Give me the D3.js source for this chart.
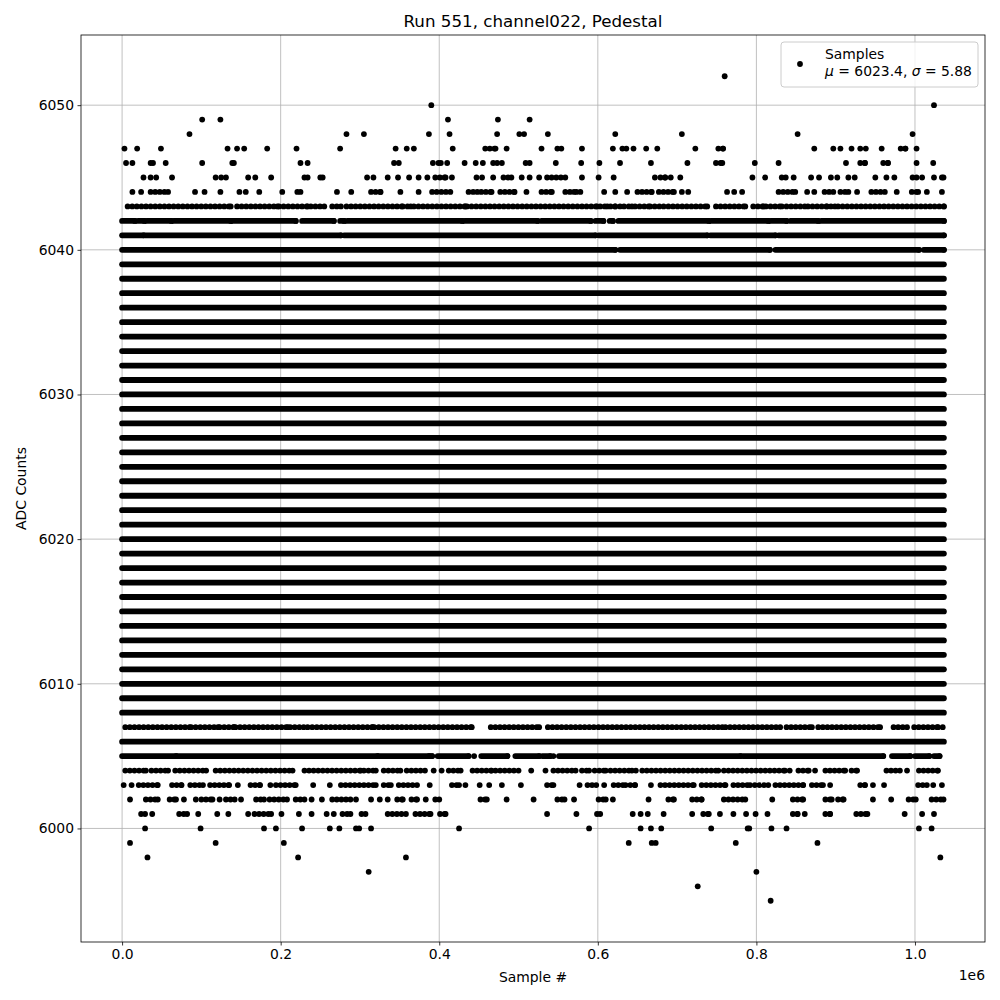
<!DOCTYPE html>
<html>
<head>
<meta charset="utf-8">
<script src="https://cdn.jsdelivr.net/npm/d3@7"></script>
<style>
  body { margin: 0; background: #fff; }
  svg text { font-family: "DejaVu Sans", sans-serif; fill: #000; }
</style>
</head>
<body>
<div id="chart"></div>
<script>
// sample index is in units of 1e6 (the axis offset)
const sampleSpan = [0, 1.0365];
const yTicks = [6000, 6010, 6020, 6030, 6040, 6050];
const xTicks = [0, 0.2, 0.4, 0.6, 0.8, 1.0];

// ADC codes hit all through the run
const denseLevels = [6006, 6008, 6009, 6010, 6011, 6012, 6013, 6014, 6015, 6016, 6017, 6018,
  6019, 6020, 6021, 6022, 6023, 6024, 6025, 6026, 6027, 6028, 6029, 6030, 6031, 6032, 6033,
  6034, 6035, 6036, 6037, 6038, 6039];

// sparser codes: single samples as numbers, stretches of samples as [from, to]
const r6052 = [0.760];
const r6050 = [0.390, 1.024];
const r6049 = [0.101, 0.124, 0.411, 0.474, 0.514];
const r6048 = [0.085, 0.283, 0.305, 0.387, 0.413, 0.473, 0.501, 0.507, 0.537, 0.622, 0.706, 0.852, 0.997];
const r6047 = [0.003, 0.019, 0.049, 0.133, 0.145, 0.154, 0.183, 0.220, 0.275, 0.345, 0.359, 0.368,
  0.417, [0.458, 0.471], 0.485, 0.529, 0.549, 0.554, 0.580, 0.619, 0.631, 0.636, 0.645, 0.661, 0.675,
  0.723, [0.752, 0.758], 0.873, 0.897, 0.906, 0.920, 0.931, 0.938, 0.958, [0.982, 0.988], 1.002];
const r6046 = [0.005, 0.013, 0.036, 0.039, 0.055, 0.101, 0.139, 0.141, 0.225, 0.234, 0.343, 0.349,
  0.392, 0.399, 0.402, 0.410, 0.432, 0.446, 0.455, 0.468, 0.473, 0.479, 0.509, 0.514, 0.547, 0.579,
  0.602, 0.628, 0.667, 0.713, [0.749, 0.757], 0.798, 0.828, 0.913, [0.931, 0.937], [0.960, 0.966],
  1.002, 1.023];
const r6045 = [0.027, 0.036, 0.043, 0.063, 0.118, 0.125, 0.131, 0.159, 0.168, 0.188, 0.230, 0.234,
  0.250, 0.253, 0.309, 0.317, 0.335, 0.348, 0.362, 0.374, 0.385, [0.395, 0.408], 0.416, 0.447, 0.454,
  0.468, [0.481, 0.491], 0.504, 0.514, 0.526, [0.536, 0.559], 0.580, 0.601, 0.620, 0.672,
  [0.679, 0.685], 0.692, 0.704, 0.795, 0.811, [0.832, 0.837], 0.847, 0.869, 0.879, 0.894, 0.902,
  0.916, 0.924, 0.950, 0.964, 0.974, [0.997, 1.002], 1.009, 1.024, [1.034, 1.036]];
const r6044 = [0.013, 0.024, [0.036, 0.058], 0.092, 0.104, 0.124, 0.148, 0.156, 0.173, 0.202,
  [0.221, 0.225], 0.271, 0.289, [0.314, 0.326], 0.351, 0.374, [0.391, 0.414], [0.437, 0.448],
  [0.453, 0.466], [0.477, 0.495], 0.510, [0.529, 0.542], [0.559, 0.570], [0.573, 0.578], 0.608,
  0.622, 0.637, [0.650, 0.668], [0.677, 0.696], 0.706, 0.714, 0.763, 0.772, 0.782, [0.828, 0.849],
  0.864, 0.873, [0.886, 0.897], [0.906, 0.916], 0.927, [0.945, 0.962], 0.977, [0.996, 1.004],
  1.015, 1.034];
const r6043 = [[0.007, 0.137], [0.145, 0.196], [0.198, 0.234], [0.238, 0.255], [0.265, 0.276],
  [0.283, 0.354], [0.360, 0.364], [0.368, 0.433], [0.435, 0.599], [0.603, 0.612], [0.616, 0.622],
  [0.628, 0.633], [0.639, 0.643], [0.647, 0.664], [0.666, 0.683], [0.689, 0.738], [0.749, 0.786],
  [0.796, 0.809], [0.812, 0.832], [0.838, 0.861], [0.865, 0.889], [0.894, 0.899], [0.903, 1.0365]];
const r6042 = [[0, 0.016], [0.020, 0.028], [0.031, 0.062], [0.065, 0.137], [0.139, 0.219],
  [0.227, 0.267], [0.275, 0.280], [0.284, 0.429], [0.432, 0.524], [0.529, 0.591], [0.597, 0.607],
  [0.615, 0.619], [0.626, 0.740], [0.743, 0.815], [0.818, 0.838], [0.843, 0.878], [0.882, 1.0365]];
const r6041 = [[0, 0.027], [0.029, 0.276], [0.280, 0.597], [0.601, 0.738], [0.742, 0.824],
  [0.828, 1.0365]];
const r6040 = [[0, 0.622], [0.628, 0.817], [0.824, 1.005], [1.011, 1.0365]];
const r6007 = [[0.004, 0.085], [0.087, 0.121], [0.123, 0.141], [0.143, 0.209], [0.212, 0.229],
  [0.234, 0.316], [0.318, 0.441], [0.465, 0.526], [0.537, 0.757], [0.761, 0.830], [0.838, 0.870],
  [0.878, 0.956], [0.973, 0.990], [0.999, 1.029], 1.035];
const r6005 = [[0, 0.068], [0.070, 0.322], [0.324, 0.387], [0.389, 0.391], [0.398, 0.437], 0.444,
  [0.453, 0.486], [0.496, 0.526], [0.530, 0.540], 0.544, [0.551, 0.780], [0.783, 0.960],
  [0.971, 0.994], [1.000, 1.018], [1.024, 1.031]];
const r6004 = [[0.004, 0.030], [0.037, 0.058], [0.067, 0.106], [0.118, 0.215], [0.230, 0.301],
  [0.305, 0.320], [0.330, 0.351], [0.359, 0.382], 0.393, 0.403, [0.412, 0.427], [0.442, 0.466],
  [0.471, 0.500], 0.516, 0.534, [0.544, 0.572], [0.580, 0.589], [0.596, 0.610], [0.616, 0.643],
  0.648, [0.656, 0.752], [0.759, 0.836], 0.842, [0.853, 0.866], 0.874, [0.887, 0.912],
  [0.920, 0.927], [0.964, 0.981], 0.990, [1.005, 1.029]];
const r6003 = [0.002, 0.012, [0.021, 0.045], [0.063, 0.075], [0.086, 0.102], [0.111, 0.135], 0.146,
  [0.162, 0.174], 0.187, [0.194, 0.219], 0.241, 0.262, [0.276, 0.320], [0.330, 0.339],
  [0.349, 0.372], 0.388, [0.416, 0.425], 0.433, 0.451, 0.463, 0.479, 0.503, [0.536, 0.544], 0.577,
  [0.587, 0.598], 0.608, [0.620, 0.635], [0.641, 0.647], 0.667, [0.679, 0.721], [0.731, 0.761],
  [0.771, 0.792], [0.798, 0.815], [0.824, 0.859], [0.870, 0.884], 0.893, [0.931, 0.937], 0.947,
  0.961, [1.004, 1.015], 1.023, 1.034];
const r6002 = [0.010, [0.030, 0.045], [0.060, 0.068], 0.078, 0.093, [0.100, 0.114], 0.123,
  [0.131, 0.142], 0.150, [0.169, 0.179], [0.186, 0.208], [0.219, 0.230], 0.239, 0.252,
  [0.265, 0.288], 0.295, 0.314, 0.325, 0.335, [0.347, 0.354], [0.365, 0.372], 0.383, [0.395, 0.400],
  [0.452, 0.460], 0.485, 0.519, [0.549, 0.558], 0.570, [0.601, 0.610], 0.619, 0.664, [0.689, 0.696],
  [0.719, 0.731], [0.759, 0.786], 0.820, [0.846, 0.859], [0.887, 0.895], [0.903, 0.910], 0.947,
  0.970, [0.992, 1.001], [1.021, 1.036]];
const r6001 = [[0.024, 0.029], 0.038, [0.072, 0.082], 0.096, 0.120, 0.134, 0.159, [0.167, 0.188],
  0.201, 0.223, 0.239, 0.258, 0.267, [0.278, 0.288], [0.302, 0.307], [0.335, 0.358], [0.370, 0.389],
  [0.401, 0.408], 0.536, 0.573, [0.599, 0.603], 0.644, 0.654, 0.663, 0.683, 0.719, [0.733, 0.740],
  0.754, 0.771, 0.787, 0.799, 0.814, [0.846, 0.852], 0.861, [0.887, 0.893], [0.926, 0.940], 0.987,
  1.009, 1.024];
const r6000 = [0.029, 0.099, 0.179, 0.194, 0.227, 0.262, 0.274, [0.295, 0.299], 0.314, 0.425, 0.589,
  0.654, 0.667, 0.680, 0.743, [0.789, 0.791], 0.819, 0.838, 1.005, 1.021];
const r5999 = [0.010, 0.118, 0.204, 0.639, [0.668, 0.673], 0.774, 0.877];
const r5998 = [0.032, 0.222, 0.358, 1.032];
const r5997 = [0.311, 0.800];
const r5996 = [0.726];
const r5995 = [0.818];

const sparseLevels = [6052, 6050, 6049, 6048, 6047, 6046, 6045, 6044, 6043, 6042, 6041, 6040,
  6007, 6005, 6004, 6003, 6002, 6001, 6000, 5999, 5998, 5997, 5996, 5995];
const sparseRuns = [r6052, r6050, r6049, r6048, r6047, r6046, r6045, r6044, r6043, r6042, r6041, r6040,
  r6007, r6005, r6004, r6003, r6002, r6001, r6000, r5999, r5998, r5997, r5996, r5995];

const mu = 6023.4, sigma = 5.88;

const width = 1000, height = 1000;
const margin = { top: 35, right: 15, bottom: 58, left: 81 };

const svg = d3.select("#chart").append("svg")
  .attr("width", width).attr("height", height);

// matplotlib style 5% padding around the data
const yMin = d3.min(sparseLevels), yMax = d3.max(sparseLevels);
const xPad = (sampleSpan[1] - sampleSpan[0]) * 0.05;
const yPad = (yMax - yMin) * 0.05;

const x = d3.scaleLinear()
  .domain([sampleSpan[0] - xPad, sampleSpan[1] + xPad])
  .range([margin.left, width - margin.right]);
const y = d3.scaleLinear()
  .domain([yMin - yPad, yMax + yPad])
  .range([height - margin.bottom, margin.top]);

const x0 = margin.left, x1 = width - margin.right;
const y0 = margin.top, y1 = height - margin.bottom;

// grid
svg.append("g").selectAll("line").data(xTicks).join("line")
  .attr("x1", d => x(d)).attr("x2", d => x(d))
  .attr("y1", y0).attr("y2", y1)
  .attr("stroke", "#b0b0b0").attr("stroke-width", 0.8);
svg.append("g").selectAll("line").data(yTicks).join("line")
  .attr("x1", x0).attr("x2", x1)
  .attr("y1", d => y(d)).attr("y2", d => y(d))
  .attr("stroke", "#b0b0b0").attr("stroke-width", 0.8);

// samples
const dotR = 2.9;
// rows that are almost full look solid, thinner ones look like chains of dots
const solidLevels = [6040, 6041, 6042, 6005];
const pts = svg.append("g");

pts.selectAll("line.dense").data(denseLevels).join("line")
  .attr("class", "dense")
  .attr("x1", x(sampleSpan[0])).attr("x2", x(sampleSpan[1]))
  .attr("y1", d => y(d)).attr("y2", d => y(d))
  .attr("stroke", "#000").attr("stroke-width", dotR * 2).attr("stroke-linecap", "round");

const runs = [];
sparseLevels.forEach((lvl, i) => {
  sparseRuns[i].forEach(r => {
    const s = typeof r === "number" ? [r, r] : r;
    runs.push({ level: lvl, from: s[0], to: s[1] });
  });
});

pts.selectAll("line.run").data(runs.filter(d => d.to > d.from)).join("line")
  .attr("class", "run")
  .attr("x1", d => x(d.from)).attr("x2", d => x(d.to))
  .attr("y1", d => y(d.level)).attr("y2", d => y(d.level))
  .attr("stroke", "#000").attr("stroke-width", dotR * 2).attr("stroke-linecap", "round")
  .attr("stroke-dasharray", d => solidLevels.includes(d.level) ? null : "0 4.6");

// make sure each stretch ends on a dot
pts.selectAll("circle.end").data(runs.filter(d => d.to > d.from)).join("circle")
  .attr("class", "end")
  .attr("cx", d => x(d.to)).attr("cy", d => y(d.level))
  .attr("r", dotR).attr("fill", "#000");

pts.selectAll("circle.single").data(runs.filter(d => d.to === d.from)).join("circle")
  .attr("class", "single")
  .attr("cx", d => x(d.from)).attr("cy", d => y(d.level))
  .attr("r", dotR).attr("fill", "#000");

// axes
const xAxis = d3.axisBottom(x).tickValues(xTicks).tickFormat(d3.format(".1f"))
  .tickSizeInner(3.5).tickSizeOuter(0).tickPadding(3.5);
const yAxis = d3.axisLeft(y).tickValues(yTicks).tickFormat(d3.format("d"))
  .tickSizeInner(3.5).tickSizeOuter(0).tickPadding(3.5);

const gx = svg.append("g").attr("transform", `translate(0,${y1})`).call(xAxis);
const gy = svg.append("g").attr("transform", `translate(${x0},0)`).call(yAxis);
[gx, gy].forEach(g => {
  g.select(".domain").remove();
  g.selectAll(".tick line").attr("stroke", "#000").attr("stroke-width", 0.8);
  g.selectAll(".tick text").attr("font-size", 13.9).attr("font-family", "DejaVu Sans").attr("fill", "#000");
});

// frame
svg.append("rect")
  .attr("x", x0).attr("y", y0).attr("width", x1 - x0).attr("height", y1 - y0)
  .attr("fill", "none").attr("stroke", "#000").attr("stroke-width", 0.8);

// offset text
svg.append("text").attr("x", x1).attr("y", 980).attr("text-anchor", "end")
  .attr("font-size", 13.9).text("1e6");

// labels
svg.append("text").attr("x", (x0 + x1) / 2).attr("y", 27).attr("text-anchor", "middle")
  .attr("font-size", 16.7).text("Run 551, channel022, Pedestal");
svg.append("text").attr("x", (x0 + x1) / 2).attr("y", 982).attr("text-anchor", "middle")
  .attr("font-size", 13.9).text("Sample #");
svg.append("text")
  .attr("transform", `translate(26,${(y0 + y1) / 2}) rotate(-90)`)
  .attr("text-anchor", "middle").attr("font-size", 13.9).text("ADC Counts");

// legend
const lg = svg.append("g");
lg.append("rect").attr("x", 781).attr("y", 42).attr("width", 197).attr("height", 45)
  .attr("rx", 3).attr("fill", "#fff").attr("fill-opacity", 0.8)
  .attr("stroke", "#cccccc").attr("stroke-width", 1);
lg.append("circle").attr("cx", 800).attr("cy", 64).attr("r", dotR).attr("fill", "#000");
lg.append("text").attr("x", 825).attr("y", 59).attr("font-size", 13.9).text("Samples");
const t2 = lg.append("text").attr("x", 825).attr("y", 76).attr("font-size", 13.9);
t2.append("tspan").attr("font-style", "italic").text("μ");
t2.append("tspan").text(` = ${mu.toFixed(1)}, `);
t2.append("tspan").attr("font-style", "italic").text("σ");
t2.append("tspan").text(` = ${sigma.toFixed(2)}`);
</script>
</body>
</html>
